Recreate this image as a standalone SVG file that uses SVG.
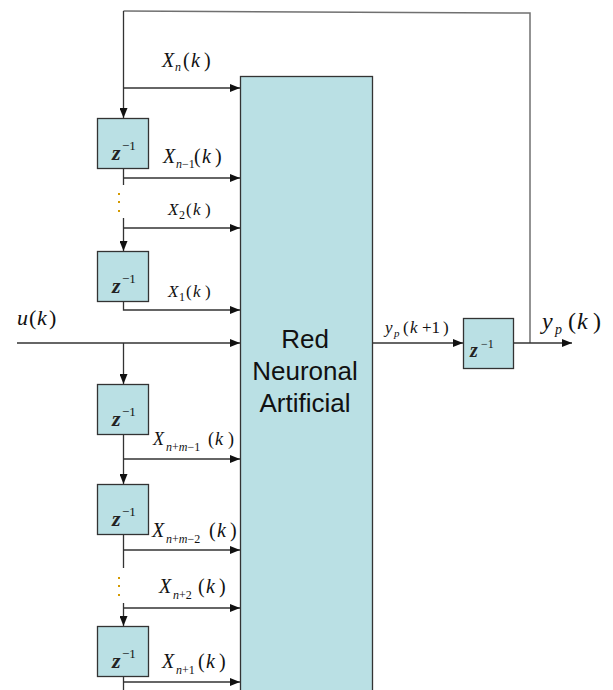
<svg xmlns="http://www.w3.org/2000/svg" width="613" height="690" viewBox="0 0 613 690">
  <defs>
    <marker id="arrow" markerUnits="userSpaceOnUse" markerWidth="10" markerHeight="8" refX="10" refY="4" orient="auto">
      <path d="M0,0 L10,4 L0,8 Z" fill="#111"/>
    </marker>
    <style>
      .blk { fill: #bae0e4; stroke: #333; stroke-width: 1.3; }
      .wire { fill: none; stroke: #333; stroke-width: 1.3; }
      .wire-gray { fill: none; stroke: #707070; stroke-width: 1.5; }
      .math { font-family: "Liberation Serif", "Times New Roman", serif; fill: #111; }
      .it { font-style: italic; }
      .zed { font-family: "Liberation Serif", "Times New Roman", serif; font-style: italic; font-weight: bold; font-size: 22px; fill: #222; }
      .sup { font-family: "Liberation Serif", "Times New Roman", serif; font-size: 13px; fill: #111; }
      .title { font-family: "Liberation Sans", Arial, sans-serif; font-size: 26px; fill: #111; text-anchor: middle; }
      .dot { fill: #d49a00; }
    </style>
  </defs>

  <rect width="613" height="690" fill="#fff"/>

  <!-- connectors -->
  <g id="connectors">
    <!-- feedback loop from output back to the top of the delay chain -->
    <path class="wire-gray" d="M530,343 L530,13 L123.5,11"/>
    <path class="wire" d="M123.5,11 L123.5,118" marker-end="url(#arrow)"/>
    <path class="wire" d="M123.5,88 L240,88" marker-end="url(#arrow)"/>
    <path class="wire" d="M123.5,168.5 L123.5,185"/>
    <path class="wire" d="M123.5,178 L240,178" marker-end="url(#arrow)"/>
    <path class="wire" d="M123.5,218 L123.5,251" marker-end="url(#arrow)"/>
    <path class="wire" d="M123.5,228 L240,228" marker-end="url(#arrow)"/>
    <path class="wire" d="M123.5,302 L123.5,310 L240,310" marker-end="url(#arrow)"/>
    <!-- external input u(k) -->
    <path class="wire" d="M17,343 L240,343" marker-end="url(#arrow)"/>
    <path class="wire" d="M123.5,343 L123.5,384" marker-end="url(#arrow)"/>
    <path class="wire" d="M123.5,434 L123.5,484" marker-end="url(#arrow)"/>
    <path class="wire" d="M123.5,459 L240,459" marker-end="url(#arrow)"/>
    <path class="wire" d="M123.5,534 L123.5,568"/>
    <path class="wire" d="M123.5,550 L240,550" marker-end="url(#arrow)"/>
    <path class="wire" d="M123.5,603 L123.5,626" marker-end="url(#arrow)"/>
    <path class="wire" d="M123.5,608 L240,608" marker-end="url(#arrow)"/>
    <path class="wire" d="M123.5,676 L123.5,690"/>
    <path class="wire" d="M123.5,682 L240,682" marker-end="url(#arrow)"/>
    <!-- network output -->
    <path class="wire" d="M372,343 L463,343" marker-end="url(#arrow)"/>
    <path class="wire" d="M513,343 L572,343" marker-end="url(#arrow)"/>
  </g>

  <!-- vertical ellipses in the delay chain -->
  <g id="ellipsis-upper">
    <rect class="dot" x="118" y="193" width="2" height="2"/>
    <rect class="dot" x="118" y="201" width="2" height="2"/>
    <rect class="dot" x="118" y="210" width="2" height="2"/>
  </g>
  <g id="ellipsis-lower">
    <rect class="dot" x="118" y="577" width="2" height="2"/>
    <rect class="dot" x="118" y="585" width="2" height="2"/>
    <rect class="dot" x="118" y="594" width="2" height="2"/>
  </g>

  <!-- neural network block -->
  <g id="rna">
    <rect class="blk" x="240.5" y="76.5" width="132" height="620"/>
    <text class="title" x="305" y="348">Red</text>
    <text class="title" x="305" y="380">Neuronal</text>
    <text class="title" x="305" y="412">Artificial</text>
  </g>

  <!-- unit delay blocks -->
  <g id="delay-1">
    <rect class="blk" x="97.5" y="118.5" width="51" height="50"/>
    <text class="zed" x="112" y="160">z</text><text class="sup" x="122" y="150">−1</text>
  </g>
  <g id="delay-2">
    <rect class="blk" x="97.5" y="251.5" width="51" height="50"/>
    <text class="zed" x="112" y="293">z</text><text class="sup" x="122" y="283">−1</text>
  </g>
  <g id="delay-3">
    <rect class="blk" x="97.5" y="384.5" width="51" height="50"/>
    <text class="zed" x="112" y="426">z</text><text class="sup" x="122" y="416">−1</text>
  </g>
  <g id="delay-4">
    <rect class="blk" x="97.5" y="484.5" width="51" height="50"/>
    <text class="zed" x="112" y="526">z</text><text class="sup" x="122" y="516">−1</text>
  </g>
  <g id="delay-5">
    <rect class="blk" x="97.5" y="626.5" width="51" height="50"/>
    <text class="zed" x="112" y="668">z</text><text class="sup" x="122" y="658">−1</text>
  </g>
  <g id="delay-out">
    <rect class="blk" x="463.5" y="318.5" width="50" height="50"/>
    <text class="zed" x="470" y="357" style="font-size:20px">z</text><text class="sup" x="481" y="348" style="font-size:12px">−1</text>
  </g>

  <!-- signal labels -->
  <g id="labels" class="math">
    <text y="67" font-size="20"><tspan class="it" x="162">X</tspan><tspan class="it" x="175" dy="4" font-size="12">n</tspan><tspan x="183" dy="-4">(</tspan><tspan class="it" x="191">k</tspan><tspan x="204">)</tspan></text>
    <text y="163" font-size="20"><tspan class="it" x="163">X</tspan><tspan class="it" x="176" dy="5" font-size="12">n</tspan><tspan x="182" font-size="12">−1</tspan><tspan x="194" dy="-5">(</tspan><tspan class="it" x="202">k</tspan><tspan x="215">)</tspan></text>
    <text y="215" font-size="17"><tspan class="it" x="168">X</tspan><tspan x="179" dy="4" font-size="12">2</tspan><tspan x="186" dy="-4">(</tspan><tspan class="it" x="193">k</tspan><tspan x="205">)</tspan></text>
    <text y="297" font-size="17"><tspan class="it" x="168">X</tspan><tspan x="179" dy="4" font-size="12">1</tspan><tspan x="186" dy="-4">(</tspan><tspan class="it" x="193">k</tspan><tspan x="205">)</tspan></text>
    <text y="325" font-size="22"><tspan class="it" x="17">u</tspan><tspan x="29">(</tspan><tspan class="it" x="37">k</tspan><tspan x="49">)</tspan></text>
    <text y="445" font-size="18"><tspan class="it" x="153">X</tspan><tspan x="166" dy="6" font-size="12"><tspan class="it">n</tspan>+<tspan class="it">m</tspan>−1</tspan><tspan x="208" dy="-6">(</tspan><tspan class="it" x="215">k</tspan><tspan x="228">)</tspan></text>
    <text y="537" font-size="20"><tspan class="it" x="152">X</tspan><tspan x="166" dy="6" font-size="12"><tspan class="it">n</tspan>+<tspan class="it">m</tspan>−2</tspan><tspan x="209" dy="-6">(</tspan><tspan class="it" x="217">k</tspan><tspan x="230">)</tspan></text>
    <text y="593" font-size="20"><tspan class="it" x="159">X</tspan><tspan x="173" dy="6" font-size="12"><tspan class="it">n</tspan>+2</tspan><tspan x="198" dy="-6">(</tspan><tspan class="it" x="206">k</tspan><tspan x="219">)</tspan></text>
    <text y="668" font-size="20"><tspan class="it" x="162">X</tspan><tspan x="176" dy="6" font-size="12"><tspan class="it">n</tspan>+1</tspan><tspan x="198" dy="-6">(</tspan><tspan class="it" x="206">k</tspan><tspan x="219">)</tspan></text>
    <text y="333" font-size="17"><tspan class="it" x="385">y</tspan><tspan class="it" x="394" dy="4" font-size="11">p</tspan><tspan x="403" dy="-4">(</tspan><tspan class="it" x="410">k</tspan><tspan x="422">+1</tspan><tspan x="443">)</tspan></text>
    <text y="329" font-size="24"><tspan class="it" x="542">y</tspan><tspan class="it" x="555" dy="5" font-size="14">p</tspan><tspan x="568" dy="-5">(</tspan><tspan class="it" x="577">k</tspan><tspan x="593">)</tspan></text>
  </g>
</svg>
